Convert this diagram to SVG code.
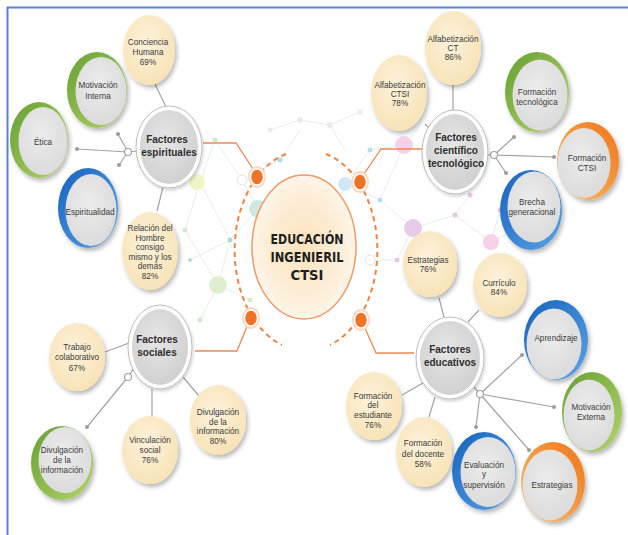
<svg xmlns="http://www.w3.org/2000/svg" width="628" height="535" viewBox="0 0 628 535">
  <defs>
    <filter id="shadow" x="-30%" y="-30%" width="160%" height="160%">
      <feDropShadow dx="2" dy="3" stdDeviation="2" flood-color="#000" flood-opacity="0.28"/>
    </filter>
    <filter id="softShadow" x="-30%" y="-30%" width="160%" height="160%">
      <feDropShadow dx="1" dy="2" stdDeviation="1.5" flood-color="#000" flood-opacity="0.18"/>
    </filter>
    <radialGradient id="cream" cx="45%" cy="40%" r="65%">
      <stop offset="0" stop-color="#fdf2dc"/>
      <stop offset="1" stop-color="#f8e2b4"/>
    </radialGradient>
    <radialGradient id="hubFill" cx="45%" cy="40%" r="65%">
      <stop offset="0" stop-color="#e6e6e6"/>
      <stop offset="1" stop-color="#cfcfcf"/>
    </radialGradient>
    <radialGradient id="innerGray" cx="45%" cy="40%" r="65%">
      <stop offset="0" stop-color="#ececec"/>
      <stop offset="1" stop-color="#dadada"/>
    </radialGradient>
    <radialGradient id="centerFill" cx="50%" cy="50%" r="55%">
      <stop offset="0" stop-color="#fde3bd"/>
      <stop offset="0.7" stop-color="#fdefda"/>
      <stop offset="1" stop-color="#fff9f0"/>
    </radialGradient>
    <linearGradient id="blueRing" x1="0" y1="0" x2="1" y2="1">
      <stop offset="0" stop-color="#1763be"/>
      <stop offset="1" stop-color="#5aa3e6"/>
    </linearGradient>
    <linearGradient id="greenRing" x1="0" y1="0" x2="1" y2="1">
      <stop offset="0" stop-color="#66a033"/>
      <stop offset="1" stop-color="#b3d46a"/>
    </linearGradient>
    <linearGradient id="orangeRing" x1="1" y1="0" x2="0" y2="1">
      <stop offset="0" stop-color="#ef7418"/>
      <stop offset="1" stop-color="#f9c272"/>
    </linearGradient>
    <style>
      .txt { font-family: "Liberation Sans", Arial, sans-serif; font-size: 8.2px; fill: #3a3a3a; text-anchor: middle; }
      .hub { font-family: "Liberation Sans", Arial, sans-serif; font-size: 10px; font-weight: bold; fill: #2e2e2e; text-anchor: middle; }
      .title { font-family: "DejaVu Sans", "Liberation Sans", sans-serif; font-size: 13.5px; font-weight: bold; fill: #1e1e1e; text-anchor: middle; }
      .creamNode { fill: url(#cream); filter: url(#shadow); }
      .hubRing { fill: #ffffff; stroke: #bdbdbd; stroke-width: 1; filter: url(#softShadow); }
      .hubCore { fill: url(#hubFill); }
      .inner { fill: url(#innerGray); }
      .link { stroke: #a3a3a3; stroke-width: 1.2; fill: none; }
      .tip { fill: #9c9c9c; }
      .junction { fill: #ffffff; stroke: #a3a3a3; stroke-width: 1.2; }
      .orangeLink { stroke: #ea8a55; stroke-width: 1.3; fill: none; }
      .orbit { fill: none; stroke: #ea8447; stroke-width: 2; stroke-dasharray: 5 4; }
      .dot { fill: #ee7326; stroke: #ffffff; stroke-width: 1.5; }
      .dotHalo { fill: #fbd9c2; }
      .net { stroke: #e1e8e8; stroke-width: 1; fill: none; }
    </style>
  </defs>

  <rect width="628" height="535" fill="#ffffff"/>

  <!-- frame: top and left rules -->
  <line x1="7" y1="7.5" x2="628" y2="7.5" stroke="#5b82d2" stroke-width="2"/>
  <line x1="7.5" y1="7" x2="7.5" y2="535" stroke="#5b82d2" stroke-width="2"/>

  <!-- faint network texture behind the core -->
  <g id="network" opacity="0.8">
    <path class="net" d="M205 130 L215 140 L242 180 L258 209 L230 240 L218 285 L200 320 M215 140 L200 182 L230 240 M242 180 L280 160 L300 130 M258 209 L290 190 M200 182 L185 230 L218 285 M218 285 L250 300 M190 260 L230 240"/>
    <path class="net" d="M345 184 L380 200 L404 145 L420 125 M380 200 L413 228 L455 215 L491 242 L515 230 M413 228 L397 260 M404 145 L370 150 L345 184 L330 220 M455 215 L470 195 M491 242 L500 210 M370 260 L397 260"/>
    <path class="net" d="M270 130 L300 120 L330 125 L360 112 M330 125 L345 150"/>
    <g fill="#c9e4c7">
      <circle cx="215" cy="140" r="2.5"/><circle cx="200" cy="320" r="2.5"/><circle cx="185" cy="230" r="2.5"/><circle cx="250" cy="300" r="2.5"/>
    </g>
    <g fill="#9fd4cc">
      <circle cx="230" cy="240" r="2.5"/><circle cx="280" cy="160" r="2.5"/><circle cx="290" cy="190" r="2.5"/><circle cx="190" cy="260" r="2"/>
    </g>
    <g fill="#a9d8ee">
      <circle cx="380" cy="200" r="2.5"/><circle cx="370" cy="150" r="2.5"/><circle cx="330" cy="220" r="2.5"/>
    </g>
    <g fill="#e3b8df">
      <circle cx="455" cy="215" r="2.5"/><circle cx="470" cy="195" r="2.5"/><circle cx="397" cy="260" r="2.5"/><circle cx="500" cy="210" r="2.5"/><circle cx="515" cy="230" r="2"/>
    </g>
    <g fill="#e6e6e6">
      <circle cx="300" cy="120" r="3"/><circle cx="330" cy="125" r="3"/><circle cx="360" cy="112" r="2.5"/><circle cx="270" cy="130" r="2.5"/>
    </g>
    <circle cx="197" cy="182" r="8" fill="#eef3b9"/>
    <circle cx="258" cy="209" r="9" fill="#c3e4dd"/>
    <circle cx="218" cy="285" r="9" fill="#d6ecc6"/>
    <circle cx="404" cy="145" r="9" fill="#f6c6e5"/>
    <circle cx="345" cy="184" r="7" fill="#c3e3f3"/>
    <circle cx="413" cy="228" r="9" fill="#e2c0e5"/>
    <circle cx="491" cy="242" r="8" fill="#f4c6e4"/>
    <circle cx="242" cy="180" r="5" fill="#ffffff" stroke="#dcdcdc"/>
    <circle cx="370" cy="260" r="5" fill="#ffffff" stroke="#dcdcdc"/>
  </g>

  <!-- connectors -->
  <g id="connectors">
    <!-- core to the four hubs -->
    <polyline class="orangeLink" points="203,143 236,143 255,172"/>
    <polyline class="orangeLink" points="424,149 381,149 362,177"/>
    <polyline class="orangeLink" points="195,351 237,351 248,324"/>
    <polyline class="orangeLink" points="414,353 376,353 364,326"/>

    <!-- spiritual factors -->
    <line class="link" x1="155" y1="84" x2="166" y2="107"/>
    <line class="link" x1="163" y1="187" x2="157" y2="211"/>
    <line class="link" x1="128" y1="152" x2="137" y2="151"/>
    <line class="link" x1="128" y1="152" x2="118" y2="134"/>
    <line class="link" x1="128" y1="152" x2="77" y2="149"/>
    <line class="link" x1="128" y1="152" x2="119" y2="165"/>
    <circle class="tip" cx="118" cy="134" r="2"/>
    <circle class="tip" cx="77" cy="149" r="2"/>
    <circle class="tip" cx="119" cy="165" r="2"/>
    <circle class="junction" cx="128" cy="152" r="3.5"/>

    <!-- scientific-technological factors -->
    <line class="link" x1="453" y1="85" x2="453" y2="110"/>
    <line class="link" x1="425" y1="124" x2="435" y2="134"/>
    <line class="link" x1="487" y1="155" x2="494" y2="155"/>
    <line class="link" x1="494" y1="155" x2="514" y2="137"/>
    <line class="link" x1="494" y1="155" x2="554" y2="157"/>
    <line class="link" x1="494" y1="155" x2="506" y2="173"/>
    <circle class="tip" cx="514" cy="137" r="2"/>
    <circle class="tip" cx="554" cy="157" r="2"/>
    <circle class="tip" cx="506" cy="173" r="2"/>
    <circle class="junction" cx="494" cy="155" r="3.5"/>

    <!-- social factors -->
    <line class="link" x1="105" y1="352" x2="129" y2="343"/>
    <line class="link" x1="152" y1="389" x2="152" y2="417"/>
    <line class="link" x1="183" y1="377" x2="199" y2="396"/>
    <line class="link" x1="128" y1="377" x2="134" y2="368"/>
    <line class="link" x1="128" y1="377" x2="87" y2="427"/>
    <circle class="tip" cx="87" cy="427" r="2"/>
    <circle class="junction" cx="128" cy="377" r="3.5"/>

    <!-- educational factors -->
    <line class="link" x1="439" y1="298" x2="444" y2="317"/>
    <line class="link" x1="479" y1="310" x2="468" y2="322"/>
    <line class="link" x1="402" y1="395" x2="423" y2="383"/>
    <line class="link" x1="429" y1="417" x2="435" y2="397"/>
    <line class="link" x1="480" y1="394" x2="474" y2="387"/>
    <line class="link" x1="480" y1="394" x2="522" y2="355"/>
    <line class="link" x1="480" y1="394" x2="554" y2="407"/>
    <line class="link" x1="480" y1="394" x2="529" y2="450"/>
    <line class="link" x1="480" y1="394" x2="476" y2="427"/>
    <circle class="tip" cx="522" cy="355" r="2"/>
    <circle class="tip" cx="554" cy="407" r="2"/>
    <circle class="tip" cx="529" cy="450" r="2"/>
    <circle class="tip" cx="476" cy="427" r="2"/>
    <circle class="junction" cx="480" cy="394" r="3.5"/>
  </g>

  <!-- central node with dashed orbit -->
  <g id="core">
    <path class="orbit" d="M286 154 A 70 100 0 0 0 282 345"/>
    <path class="orbit" d="M326 154 A 70 100 0 0 1 330 345"/>
    <ellipse cx="304" cy="247" rx="52" ry="72" fill="url(#centerFill)" stroke="#ee9a66" stroke-width="1.5"/>
    <text class="title" x="307" y="244" textLength="73" lengthAdjust="spacingAndGlyphs">EDUCACIÓN</text>
    <text class="title" x="307" y="262" textLength="73" lengthAdjust="spacingAndGlyphs">INGENIERIL</text>
    <text class="title" x="307" y="280" textLength="33" lengthAdjust="spacingAndGlyphs">CTSI</text>
    <g id="core-dots">
      <ellipse class="dotHalo" cx="257" cy="177" rx="9" ry="11"/>
      <ellipse class="dot" cx="257" cy="177" rx="6.5" ry="8"/>
      <ellipse class="dotHalo" cx="360" cy="182" rx="9" ry="11"/>
      <ellipse class="dot" cx="360" cy="182" rx="6.5" ry="8"/>
      <ellipse class="dotHalo" cx="251" cy="318" rx="9" ry="11"/>
      <ellipse class="dot" cx="251" cy="318" rx="6.5" ry="8"/>
      <ellipse class="dotHalo" cx="361" cy="320" rx="9" ry="11"/>
      <ellipse class="dot" cx="361" cy="320" rx="6.5" ry="8"/>
    </g>
  </g>

  <!-- hubs -->
  <g id="hub-espirituales">
    <ellipse class="hubRing" cx="169" cy="147" rx="33" ry="41"/>
    <ellipse class="hubCore" cx="169" cy="147" rx="29" ry="37"/>
    <text class="hub" x="167" y="143">Factores</text>
    <text class="hub" x="169" y="156">espirituales</text>
  </g>
  <g id="hub-cientifico">
    <ellipse class="hubRing" cx="455" cy="152" rx="33" ry="42"/>
    <ellipse class="hubCore" cx="455" cy="152" rx="29" ry="38"/>
    <text class="hub" x="456" y="141">Factores</text>
    <text class="hub" x="456" y="154">científico</text>
    <text class="hub" x="456" y="167">tecnológico</text>
  </g>
  <g id="hub-sociales">
    <ellipse class="hubRing" cx="160" cy="347" rx="32" ry="42"/>
    <ellipse class="hubCore" cx="160" cy="347" rx="28" ry="38"/>
    <text class="hub" x="157" y="343">Factores</text>
    <text class="hub" x="157" y="356">sociales</text>
  </g>
  <g id="hub-educativos">
    <ellipse class="hubRing" cx="450" cy="358" rx="34" ry="41"/>
    <ellipse class="hubCore" cx="450" cy="358" rx="30" ry="37"/>
    <text class="hub" x="450" y="353">Factores</text>
    <text class="hub" x="450" y="366">educativos</text>
  </g>

  <!-- percentage nodes -->
  <g id="n-conciencia">
    <ellipse class="creamNode" cx="149" cy="50" rx="26" ry="35"/>
    <text class="txt" x="148" y="45">Conciencia</text>
    <text class="txt" x="148" y="55">Humana</text>
    <text class="txt" x="148" y="65">69%</text>
  </g>
  <g id="n-relacion">
    <ellipse class="creamNode" cx="150" cy="251" rx="28" ry="39"/>
    <text class="txt" x="150" y="231">Relación del</text>
    <text class="txt" x="150" y="241">Hombre</text>
    <text class="txt" x="150" y="250">consigo</text>
    <text class="txt" x="150" y="260">mismo y los</text>
    <text class="txt" x="150" y="269">demás</text>
    <text class="txt" x="150" y="279">82%</text>
  </g>
  <g id="n-alfa-ct">
    <ellipse class="creamNode" cx="453" cy="48" rx="28" ry="37"/>
    <text class="txt" x="453" y="42">Alfabetización</text>
    <text class="txt" x="453" y="51">CT</text>
    <text class="txt" x="453" y="60">86%</text>
  </g>
  <g id="n-alfa-ctsi">
    <ellipse class="creamNode" cx="399" cy="93" rx="28" ry="38"/>
    <text class="txt" x="400" y="88">Alfabetización</text>
    <text class="txt" x="400" y="97">CTSI</text>
    <text class="txt" x="400" y="106">78%</text>
  </g>
  <g id="n-estrategias-76">
    <ellipse class="creamNode" cx="430" cy="264" rx="27" ry="33"/>
    <text class="txt" x="428" y="263">Estrategias</text>
    <text class="txt" x="428" y="272">76%</text>
  </g>
  <g id="n-curriculo">
    <ellipse class="creamNode" cx="500" cy="285" rx="27" ry="32"/>
    <text class="txt" x="499" y="286">Currículo</text>
    <text class="txt" x="499" y="295">84%</text>
  </g>
  <g id="n-estudiante">
    <ellipse class="creamNode" cx="374" cy="406" rx="28" ry="34"/>
    <text class="txt" x="373" y="399">Formación</text>
    <text class="txt" x="373" y="408">del</text>
    <text class="txt" x="373" y="418">estudiante</text>
    <text class="txt" x="373" y="428">76%</text>
  </g>
  <g id="n-docente">
    <ellipse class="creamNode" cx="424" cy="452" rx="28" ry="35"/>
    <text class="txt" x="423" y="446">Formación</text>
    <text class="txt" x="423" y="457">del docente</text>
    <text class="txt" x="423" y="467">58%</text>
  </g>
  <g id="n-trabajo">
    <ellipse class="creamNode" cx="77" cy="357" rx="28" ry="34"/>
    <text class="txt" x="77" y="350">Trabajo</text>
    <text class="txt" x="77" y="360">colaborativo</text>
    <text class="txt" x="77" y="371">67%</text>
  </g>
  <g id="n-vinculacion">
    <ellipse class="creamNode" cx="150" cy="450" rx="28" ry="34"/>
    <text class="txt" x="150" y="443">Vinculación</text>
    <text class="txt" x="150" y="453">social</text>
    <text class="txt" x="150" y="463">76%</text>
  </g>
  <g id="n-divulgacion-80">
    <ellipse class="creamNode" cx="218" cy="420" rx="28" ry="35"/>
    <text class="txt" x="218" y="415">Divulgación</text>
    <text class="txt" x="218" y="425">de la</text>
    <text class="txt" x="218" y="434">información</text>
    <text class="txt" x="218" y="444">80%</text>
  </g>

  <!-- ringed nodes -->
  <g id="n-motivacion-interna">
    <ellipse cx="97" cy="90" rx="30" ry="38" fill="url(#greenRing)" filter="url(#shadow)"/>
    <ellipse class="inner" cx="101" cy="91" rx="25.5" ry="34"/>
    <text class="txt" x="98" y="88">Motivación</text>
    <text class="txt" x="98" y="99">Interna</text>
  </g>
  <g id="n-etica">
    <ellipse cx="39" cy="140" rx="29" ry="38" fill="url(#greenRing)" filter="url(#shadow)"/>
    <ellipse class="inner" cx="43" cy="141" rx="24.5" ry="34"/>
    <text class="txt" x="43" y="145">Ética</text>
  </g>
  <g id="n-espiritualidad">
    <ellipse cx="88" cy="208" rx="30" ry="40" fill="url(#blueRing)" filter="url(#shadow)"/>
    <ellipse class="inner" cx="91" cy="210" rx="25.5" ry="36"/>
    <text class="txt" x="90" y="215">Espiritualidad</text>
  </g>
  <g id="n-formacion-tecnologica">
    <ellipse cx="537" cy="92" rx="32" ry="40" fill="url(#greenRing)" filter="url(#shadow)"/>
    <ellipse class="inner" cx="540" cy="95" rx="27.5" ry="35.5"/>
    <text class="txt" x="537" y="95">Formación</text>
    <text class="txt" x="537" y="105">tecnológica</text>
  </g>
  <g id="n-formacion-ctsi">
    <ellipse cx="588" cy="161" rx="31" ry="39" fill="url(#orangeRing)" filter="url(#shadow)"/>
    <ellipse class="inner" cx="584" cy="163" rx="26.5" ry="35"/>
    <text class="txt" x="587" y="161">Formación</text>
    <text class="txt" x="587" y="171">CTSI</text>
  </g>
  <g id="n-brecha">
    <ellipse cx="531" cy="210" rx="31" ry="40" fill="url(#blueRing)" filter="url(#shadow)"/>
    <ellipse class="inner" cx="534" cy="207" rx="26.5" ry="35.5"/>
    <text class="txt" x="532" y="205">Brecha</text>
    <text class="txt" x="532" y="215">generacional</text>
  </g>
  <g id="n-aprendizaje">
    <ellipse cx="556" cy="340" rx="32" ry="40" fill="url(#blueRing)" filter="url(#shadow)"/>
    <ellipse class="inner" cx="554" cy="344" rx="27.5" ry="35.5"/>
    <text class="txt" x="556" y="341">Aprendizaje</text>
  </g>
  <g id="n-motivacion-externa">
    <ellipse cx="592" cy="412" rx="30" ry="40" fill="url(#greenRing)" filter="url(#shadow)"/>
    <ellipse class="inner" cx="589" cy="415" rx="25.5" ry="35.5"/>
    <text class="txt" x="591" y="410">Motivación</text>
    <text class="txt" x="591" y="420">Externa</text>
  </g>
  <g id="n-evaluacion">
    <ellipse cx="484" cy="471" rx="32" ry="39" fill="url(#blueRing)" filter="url(#shadow)"/>
    <ellipse class="inner" cx="488" cy="472" rx="27.5" ry="35"/>
    <text class="txt" x="484" y="468">Evaluación</text>
    <text class="txt" x="484" y="477">y</text>
    <text class="txt" x="484" y="488">supervisión</text>
  </g>
  <g id="n-estrategias">
    <ellipse cx="553" cy="482" rx="32" ry="40" fill="url(#orangeRing)" filter="url(#shadow)"/>
    <ellipse class="inner" cx="550" cy="485" rx="27.5" ry="35.5"/>
    <text class="txt" x="552" y="488">Estrategias</text>
  </g>
  <g id="n-divulgacion">
    <ellipse cx="62" cy="463" rx="31" ry="37" fill="url(#greenRing)" filter="url(#shadow)"/>
    <ellipse class="inner" cx="65" cy="460" rx="26.5" ry="33"/>
    <text class="txt" x="62" y="453">Divulgación</text>
    <text class="txt" x="62" y="463">de la</text>
    <text class="txt" x="62" y="473">información</text>
  </g>
</svg>
